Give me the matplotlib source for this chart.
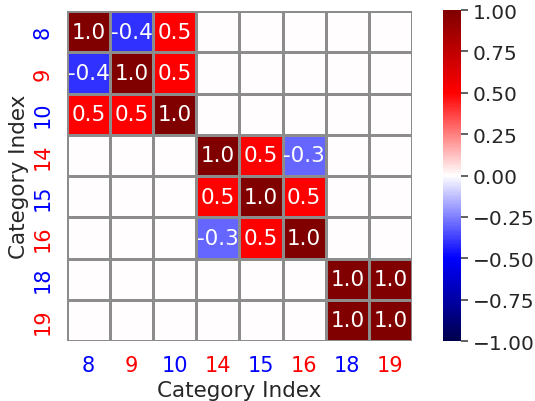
import matplotlib
matplotlib.use('Agg')
import matplotlib.pyplot as plt
import numpy as np
import seaborn as sns

categories = [8, 9, 10, 14, 15, 16, 18, 19]
label_colors = ['blue', 'red', 'blue', 'red', 'blue', 'red', 'blue', 'red']
cbar_ticks = [-1.0, -0.75, -0.5, -0.25, 0.0, 0.25, 0.5, 0.75, 1.0]

# correlation blocks along the diagonal
block_a = [[1.0, -0.4, 0.5],
           [-0.4, 1.0, 0.5],
           [0.5, 0.5, 1.0]]
block_b = [[1.0, 0.5, -0.3],
           [0.5, 1.0, 0.5],
           [-0.3, 0.5, 1.0]]
block_c = [[1.0, 1.0],
           [1.0, 1.0]]

sns.set_theme(style='white', font_scale=1.4)
plt.rcParams['font.family'] = ['DejaVu Sans']

corr = np.zeros((len(categories), len(categories)))
corr[0:3, 0:3] = block_a
corr[3:6, 3:6] = block_b
corr[6:8, 6:8] = block_c

labels = np.where(corr == 0, '', np.vectorize(lambda v: f'{v:.1f}')(corr))

fig = plt.figure(figsize=(5.35, 4.02), dpi=100)
ax = fig.add_axes([67/535, 1 - 342/402, 345/535, 330/402])
cax = fig.add_axes([443/535, 1 - 342/402, 18/535, 331/402])

sns.heatmap(corr, ax=ax, cbar_ax=cax, cmap='seismic', vmin=-1, vmax=1,
            annot=labels, fmt='', annot_kws={'size': 15.5, 'color': 'white'},
            linewidths=0.75, linecolor='#8c8c8c',
            xticklabels=categories, yticklabels=categories,
            cbar_kws={'ticks': cbar_ticks})

ax.set_xlabel('Category Index', fontsize=15.5, labelpad=4)
ax.set_ylabel('Category Index', fontsize=15.5, labelpad=3)
for t, c in zip(ax.get_xticklabels(), label_colors):
    t.set_color(c)
for t, c in zip(ax.get_yticklabels(), label_colors):
    t.set_color(c)
ax.tick_params(length=0, labelsize=15, pad=10)
cax.tick_params(labelsize=14.5, length=5, right=True, color='0.3')
cax.yaxis.set_major_formatter(matplotlib.ticker.FuncFormatter(
    lambda v, _: f'{v:.2f}'.replace('-', '\u2212')))

fig.savefig('out.png', dpi=100)
